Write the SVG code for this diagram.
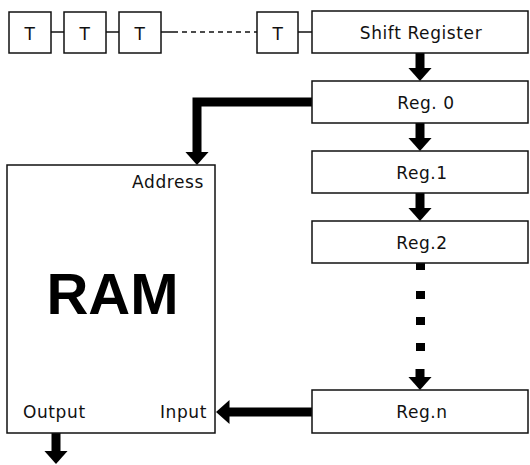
<svg xmlns="http://www.w3.org/2000/svg" width="530" height="465" viewBox="0 0 530 465">
<defs>
<style>
.box{fill:#fff;stroke:#111;stroke-width:1.5}
.lbl{font-family:"DejaVu Sans",sans-serif;font-size:17px;fill:#111;letter-spacing:0.6px}
.c{text-anchor:middle}
.thin{stroke:#111;stroke-width:1.5;fill:none}
.thick{stroke:#000;stroke-width:9;fill:none;marker-end:url(#ah)}
</style>
<marker id="ah" markerUnits="userSpaceOnUse" markerWidth="15" markerHeight="26" viewBox="0 0 15 26" refX="0.5" refY="13" orient="auto">
<path d="M0,1 L13.5,13 L0,25 Z" fill="#000"/>
</marker>
</defs>
<rect width="530" height="465" fill="#fff"/>
<g id="connectors">
<line class="thin" x1="51" y1="32" x2="64" y2="32"/>
<line class="thin" x1="106" y1="32" x2="119" y2="32"/>
<line class="thin" x1="161" y1="32" x2="173" y2="32"/>
<line class="thin" x1="173" y1="32" x2="257" y2="32" stroke-dasharray="5 4"/>
<line class="thin" x1="298" y1="32" x2="312" y2="32"/>
<line class="thick" x1="420" y1="53" x2="420" y2="68"/>
<line class="thick" x1="420" y1="123" x2="420" y2="138"/>
<line class="thick" x1="420" y1="193" x2="420" y2="208"/>
<g fill="#000">
<rect x="416" y="263" width="9" height="7"/>
<rect x="416" y="291" width="9" height="8"/>
<rect x="416" y="317" width="9" height="8"/>
<rect x="416" y="343" width="9" height="8"/>
</g>
<line class="thick" x1="420" y1="369" x2="420" y2="377"/>
<path class="thick" d="M312,102 H197 V152"/>
<line class="thick" x1="312" y1="412" x2="229" y2="412"/>
<line class="thick" x1="56" y1="433" x2="56" y2="451"/>
</g>
<g id="t1"><rect class="box" x="9" y="12" width="42" height="41"/><text class="lbl c" x="30" y="40" font-size="18">T</text></g>
<g id="t2"><rect class="box" x="64" y="12" width="42" height="41"/><text class="lbl c" x="85" y="40" font-size="18">T</text></g>
<g id="t3"><rect class="box" x="119" y="12" width="42" height="41"/><text class="lbl c" x="140" y="40" font-size="18">T</text></g>
<g id="t4"><rect class="box" x="257" y="12" width="41" height="41"/><text class="lbl c" x="278" y="40" font-size="18">T</text></g>
<g id="shift-register"><rect class="box" x="312" y="11" width="216" height="42"/><text class="lbl c" x="421" y="38.5">Shift Register</text></g>
<g id="reg0"><rect class="box" x="312" y="81" width="216" height="42"/><text class="lbl c" x="426" y="108.5">Reg. 0</text></g>
<g id="reg1"><rect class="box" x="312" y="151" width="216" height="42"/><text class="lbl c" x="422" y="178.5">Reg.1</text></g>
<g id="reg2"><rect class="box" x="312" y="221" width="216" height="42"/><text class="lbl c" x="422" y="248.5">Reg.2</text></g>
<g id="regn"><rect class="box" x="312" y="390" width="216" height="43"/><text class="lbl c" x="422" y="417.5">Reg.n</text></g>
<g id="ram">
<rect class="box" x="7" y="165" width="208" height="268"/>
<text class="lbl" x="204" y="187.5" text-anchor="end">Address</text>
<text x="112.5" y="314" text-anchor="middle" font-family="Liberation Sans, Arial, sans-serif" font-weight="bold" font-size="58" fill="#000">RAM</text>
<text class="lbl" x="23" y="417.5" letter-spacing="1">Output</text>
<text class="lbl" x="207" y="417.5" text-anchor="end" letter-spacing="1">Input</text>
</g>
</svg>
